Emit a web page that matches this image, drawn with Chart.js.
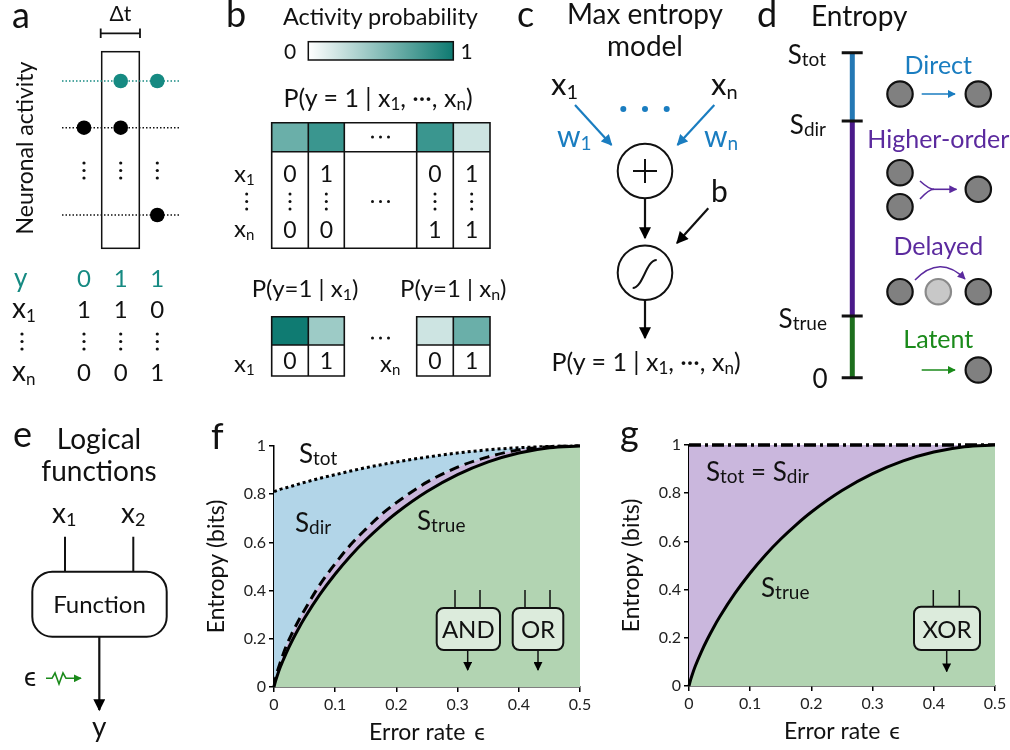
<!doctype html>
<html lang="en">
<head>
<meta charset="utf-8">
<title>Entropy of logical functions</title>
<style>
  * { margin: 0; padding: 0; }
  body { width: 1010px; height: 750px; background: #fff; position: relative; overflow: hidden; }
  canvas { position: absolute; }
  #chartF { left: 200px; top: 420px; }
  #chartG { left: 615px; top: 419px; }
  #art { position: absolute; left: 0; top: 0; pointer-events: none; }
  #art text { font-family: Lato, "Liberation Sans", sans-serif; fill: #111; }
</style>
</head>
<body>
<canvas id="chartF" width="410" height="330"></canvas>
<canvas id="chartG" width="395" height="330"></canvas>

<svg id="art" width="1010" height="750" viewBox="0 0 1010 750">
  <defs>
    <linearGradient id="tealGrad" x1="0" x2="1" y1="0" y2="0">
      <stop offset="0" stop-color="#ffffff"/>
      <stop offset="1" stop-color="#0e7a71"/>
    </linearGradient>
    <marker id="akL" viewBox="0 0 10 10" refX="9" refY="5" markerWidth="13" markerHeight="12" markerUnits="userSpaceOnUse" orient="auto"><path d="M0,0 L10,5 L0,10 z" fill="#000"/></marker>
    <marker id="akS" viewBox="0 0 10 10" refX="9" refY="5" markerWidth="9" markerHeight="9" markerUnits="userSpaceOnUse" orient="auto"><path d="M0,0 L10,5 L0,10 z" fill="#000"/></marker>
    <marker id="abL" viewBox="0 0 10 10" refX="9" refY="5" markerWidth="12" markerHeight="11" markerUnits="userSpaceOnUse" orient="auto"><path d="M0,0 L10,5 L0,10 z" fill="#1a7dc0"/></marker>
    <marker id="abS" viewBox="0 0 10 10" refX="9" refY="5" markerWidth="8" markerHeight="8" markerUnits="userSpaceOnUse" orient="auto"><path d="M0,0 L10,5 L0,10 z" fill="#1a7dc0"/></marker>
    <marker id="apS" viewBox="0 0 10 10" refX="9" refY="5" markerWidth="8" markerHeight="8" markerUnits="userSpaceOnUse" orient="auto"><path d="M0,0 L10,5 L0,10 z" fill="#5b2a9e"/></marker>
    <marker id="agS" viewBox="0 0 10 10" refX="9" refY="5" markerWidth="8" markerHeight="8" markerUnits="userSpaceOnUse" orient="auto"><path d="M0,0 L10,5 L0,10 z" fill="#1a8a1a"/></marker>
  </defs>

  <!-- a -->
  <text x="12" y="28" font-size="36">a</text>
  <text x="120.5" y="21" font-size="21" text-anchor="middle">Δt</text>
  <path d="M100.7 33.3 H140 M100.7 28.5 V38 M140 28.5 V38" stroke="#111" stroke-width="1.8" fill="none"/>
  <rect x="101.7" y="51.7" width="37.6" height="196.6" fill="none" stroke="#111" stroke-width="1.5"/>
  <line x1="62" y1="81" x2="180" y2="81" stroke="#168a82" stroke-width="1.5" stroke-dasharray="1.5 2"/>
  <line x1="62" y1="127.7" x2="180" y2="127.7" stroke="#111" stroke-width="1.5" stroke-dasharray="1.5 2"/>
  <line x1="62" y1="215" x2="180" y2="215" stroke="#111" stroke-width="1.5" stroke-dasharray="1.5 2"/>
  <circle cx="120.7" cy="81" r="7.3" fill="#168a82"/>
  <circle cx="157.3" cy="81" r="7.3" fill="#168a82"/>
  <circle cx="84" cy="127.7" r="7.3" fill="#000"/>
  <circle cx="120.7" cy="127.7" r="7.3" fill="#000"/>
  <circle cx="157.3" cy="215" r="7.3" fill="#000"/>
  <g fill="#111">
    <circle cx="84" cy="163" r="1.6"/><circle cx="84" cy="170.5" r="1.6"/><circle cx="84" cy="178" r="1.6"/>
    <circle cx="120.7" cy="163" r="1.6"/><circle cx="120.7" cy="170.5" r="1.6"/><circle cx="120.7" cy="178" r="1.6"/>
    <circle cx="157.3" cy="163" r="1.6"/><circle cx="157.3" cy="170.5" r="1.6"/><circle cx="157.3" cy="178" r="1.6"/>
  </g>
  <text transform="translate(33,148) rotate(-90)" font-size="23" text-anchor="middle">Neuronal activity</text>
  <text x="14" y="287" font-size="26" style="fill:#168a82">y</text>
  <g font-size="24" text-anchor="middle">
    <text x="84" y="287" style="fill:#168a82">0</text><text x="120.7" y="287" style="fill:#168a82">1</text><text x="157.3" y="287" style="fill:#168a82">1</text>
    <text x="84" y="318">1</text><text x="120.7" y="318">1</text><text x="157.3" y="318">0</text>
    <text x="84" y="381">0</text><text x="120.7" y="381">0</text><text x="157.3" y="381">1</text>
  </g>
  <text x="12" y="318" font-size="28">x<tspan font-size="17" dy="4">1</tspan></text>
  <text x="12" y="381" font-size="28">x<tspan font-size="17" dy="4">n</tspan></text>
  <g fill="#111">
    <circle cx="22" cy="334" r="1.6"/><circle cx="22" cy="341.5" r="1.6"/><circle cx="22" cy="349" r="1.6"/>
    <circle cx="84" cy="334" r="1.6"/><circle cx="84" cy="341.5" r="1.6"/><circle cx="84" cy="349" r="1.6"/>
    <circle cx="120.7" cy="334" r="1.6"/><circle cx="120.7" cy="341.5" r="1.6"/><circle cx="120.7" cy="349" r="1.6"/>
    <circle cx="157.3" cy="334" r="1.6"/><circle cx="157.3" cy="341.5" r="1.6"/><circle cx="157.3" cy="349" r="1.6"/>
  </g>

  <!-- b -->
  <text x="226" y="27" font-size="36">b</text>
  <text x="380.5" y="25" font-size="23.5" text-anchor="middle">Activity probability</text>
  <rect x="308.3" y="41.7" width="145" height="18.3" fill="url(#tealGrad)" stroke="#111" stroke-width="1.5"/>
  <text x="290" y="58.5" font-size="21" text-anchor="middle">0</text>
  <text x="466.7" y="58.5" font-size="21" text-anchor="middle">1</text>
  <text x="378" y="106.7" font-size="25" text-anchor="middle">P(y = 1 | x<tspan font-size="17" dy="3">1</tspan><tspan dy="-3">, ···, x</tspan><tspan font-size="17" dy="3">n</tspan><tspan dy="-3">)</tspan></text>
  <rect x="271.7" y="122.7" width="36.6" height="29" fill="#6aafa9"/>
  <rect x="308.3" y="122.7" width="36" height="29" fill="#3a968f"/>
  <rect x="416.7" y="122.7" width="36.6" height="29" fill="#3a968f"/>
  <rect x="453.3" y="122.7" width="36.7" height="29" fill="#cde4e2"/>
  <path d="M271.7 122.7 H490 V248.3 H271.7 Z M271.7 151.7 H490 M308.3 122.7 V248.3 M344.3 122.7 V248.3 M416.7 122.7 V248.3 M453.3 122.7 V248.3" fill="none" stroke="#111" stroke-width="1.6"/>
  <g font-size="23" text-anchor="middle">
    <text x="290" y="182">0</text><text x="326.3" y="182">1</text><text x="435" y="182">0</text><text x="471.7" y="182">1</text>
    <text x="290" y="237.5">0</text><text x="326.3" y="237.5">0</text><text x="435" y="237.5">1</text><text x="471.7" y="237.5">1</text>
  </g>
  <text x="234" y="182" font-size="24">x<tspan font-size="15" dy="3">1</tspan></text>
  <text x="234" y="237" font-size="24">x<tspan font-size="15" dy="3">n</tspan></text>
  <g fill="#111">
    <circle cx="246.7" cy="194" r="1.5"/><circle cx="246.7" cy="201.5" r="1.5"/><circle cx="246.7" cy="209" r="1.5"/>
    <circle cx="290" cy="194" r="1.5"/><circle cx="290" cy="201.5" r="1.5"/><circle cx="290" cy="209" r="1.5"/>
    <circle cx="326.3" cy="194" r="1.5"/><circle cx="326.3" cy="201.5" r="1.5"/><circle cx="326.3" cy="209" r="1.5"/>
    <circle cx="435" cy="194" r="1.5"/><circle cx="435" cy="201.5" r="1.5"/><circle cx="435" cy="209" r="1.5"/>
    <circle cx="471.7" cy="194" r="1.5"/><circle cx="471.7" cy="201.5" r="1.5"/><circle cx="471.7" cy="209" r="1.5"/>
    <circle cx="372.5" cy="201.5" r="1.5"/><circle cx="380.5" cy="201.5" r="1.5"/><circle cx="388.5" cy="201.5" r="1.5"/>
    <circle cx="372.5" cy="137" r="1.5"/><circle cx="380.5" cy="137" r="1.5"/><circle cx="388.5" cy="137" r="1.5"/>
    <circle cx="372.5" cy="338" r="1.5"/><circle cx="380.5" cy="338" r="1.5"/><circle cx="388.5" cy="338" r="1.5"/>
  </g>
  <text x="305" y="297" font-size="24" text-anchor="middle">P(y=1 | x<tspan font-size="16" dy="3">1</tspan><tspan dy="-3">)</tspan></text>
  <text x="453.3" y="297" font-size="24" text-anchor="middle">P(y=1 | x<tspan font-size="16" dy="3">n</tspan><tspan dy="-3">)</tspan></text>
  <rect x="271.7" y="316.7" width="36.6" height="28.3" fill="#0f7b72"/>
  <rect x="308.3" y="316.7" width="36" height="28.3" fill="#9dcbc6"/>
  <rect x="416.7" y="316.7" width="36.6" height="28.3" fill="#cde4e2"/>
  <rect x="453.3" y="316.7" width="36.7" height="28.3" fill="#6aafa9"/>
  <path d="M271.7 316.7 H344.3 V376 H271.7 Z M271.7 345 H344.3 M308.3 316.7 V376 M416.7 316.7 H490 V376 H416.7 Z M416.7 345 H490 M453.3 316.7 V376" fill="none" stroke="#111" stroke-width="1.6"/>
  <g font-size="23" text-anchor="middle">
    <text x="290" y="369">0</text><text x="326.3" y="369">1</text><text x="435" y="369">0</text><text x="471.7" y="369">1</text>
  </g>
  <text x="234" y="372" font-size="24">x<tspan font-size="15" dy="3">1</tspan></text>
  <text x="380" y="372" font-size="24">x<tspan font-size="15" dy="3">n</tspan></text>

  <!-- c -->
  <text x="517" y="27" font-size="36">c</text>
  <text x="645" y="24" font-size="28" text-anchor="middle">Max entropy</text>
  <text x="645" y="56" font-size="28" text-anchor="middle">model</text>
  <text x="551" y="95" font-size="31">x<tspan font-size="20" dy="4">1</tspan></text>
  <text x="711" y="95" font-size="31">x<tspan font-size="20" dy="4">n</tspan></text>
  <g fill="#1a7dc0"><circle cx="623.3" cy="109" r="3"/><circle cx="645" cy="109" r="3"/><circle cx="666.7" cy="109" r="3"/></g>
  <line x1="575" y1="105" x2="611.5" y2="145" stroke="#1a7dc0" stroke-width="2.2" marker-end="url(#abL)"/>
  <line x1="714.3" y1="105" x2="677.5" y2="145" stroke="#1a7dc0" stroke-width="2.2" marker-end="url(#abL)"/>
  <text x="557" y="147" font-size="30" style="fill:#1a7dc0">w<tspan font-size="19" dy="3">1</tspan></text>
  <text x="704" y="147" font-size="30" style="fill:#1a7dc0">w<tspan font-size="19" dy="3">n</tspan></text>
  <circle cx="645" cy="171" r="27.3" fill="#fff" stroke="#111" stroke-width="2"/>
  <path d="M645 159 V183 M633 171 H657" stroke="#111" stroke-width="2"/>
  <line x1="645" y1="198.5" x2="645" y2="238" stroke="#111" stroke-width="2.2" marker-end="url(#akL)"/>
  <text x="711" y="202" font-size="30">b</text>
  <line x1="708.3" y1="208.3" x2="677" y2="243" stroke="#111" stroke-width="2.2" marker-end="url(#akL)"/>
  <circle cx="645" cy="272.7" r="27.3" fill="#fff" stroke="#111" stroke-width="2"/>
  <path d="M632.7 288 C643 288 646 260 656.7 260" fill="none" stroke="#111" stroke-width="2"/>
  <line x1="645" y1="300" x2="645" y2="338" stroke="#111" stroke-width="2.2" marker-end="url(#akL)"/>
  <text x="646" y="371" font-size="25" text-anchor="middle">P(y = 1 | x<tspan font-size="17" dy="3">1</tspan><tspan dy="-3">, ···, x</tspan><tspan font-size="17" dy="3">n</tspan><tspan dy="-3">)</tspan></text>

  <!-- d -->
  <text x="757" y="27" font-size="36">d</text>
  <text x="811" y="26" font-size="28">Entropy</text>
  <line x1="852.3" y1="52.7" x2="852.3" y2="121" stroke="#2478b4" stroke-width="5"/>
  <line x1="852.3" y1="121" x2="852.3" y2="316" stroke="#4a1a8a" stroke-width="5"/>
  <line x1="852.3" y1="316" x2="852.3" y2="377.7" stroke="#1d6f1d" stroke-width="5"/>
  <path d="M841.7 52.7 H862.7 M841.7 121 H862.7 M841.7 316 H862.7 M841.7 377.7 H862.7" stroke="#111" stroke-width="3"/>
  <text x="826" y="64" font-size="26" text-anchor="end">S<tspan font-size="19" dy="2">tot</tspan></text>
  <text x="826" y="134" font-size="26" text-anchor="end">S<tspan font-size="19" dy="2">dir</tspan></text>
  <text x="827" y="328" font-size="26" text-anchor="end">S<tspan font-size="19" dy="2">true</tspan></text>
  <text x="820" y="388" font-size="26" text-anchor="middle">0</text>
  <text x="938.3" y="74" font-size="25" text-anchor="middle" style="fill:#1a7dc0">Direct</text>
  <text x="938.3" y="148" font-size="25" text-anchor="middle" style="fill:#5b2a9e">Higher-order</text>
  <text x="938.3" y="255" font-size="25" text-anchor="middle" style="fill:#5b2a9e">Delayed</text>
  <text x="938.3" y="348" font-size="25" text-anchor="middle" style="fill:#1a8a1a">Latent</text>
  <g fill="#808080" stroke="#111" stroke-width="2.2">
    <circle cx="900" cy="94" r="12.7"/><circle cx="978.3" cy="94" r="12.7"/>
    <circle cx="900" cy="172.7" r="12.7"/><circle cx="900" cy="206.7" r="12.7"/><circle cx="978.3" cy="189.3" r="12.7"/>
    <circle cx="900" cy="291.7" r="12.7"/><circle cx="978.3" cy="291.7" r="12.7"/>
    <circle cx="978.3" cy="370" r="12.7"/>
  </g>
  <circle cx="938.3" cy="291.7" r="12.7" fill="#c8c8c8" stroke="#8a8a8a" stroke-width="2.2"/>
  <line x1="921.7" y1="94" x2="955" y2="94" stroke="#1a7dc0" stroke-width="1.6" marker-end="url(#abS)"/>
  <path d="M920 181 Q929 189.3 934 189.3 M920 199 Q929 189.3 934 189.3" fill="none" stroke="#5b2a9e" stroke-width="1.6"/>
  <line x1="933" y1="189.3" x2="956.5" y2="189.3" stroke="#5b2a9e" stroke-width="1.6" marker-end="url(#apS)"/>
  <path d="M915 280 Q940 254 965 279" fill="none" stroke="#5b2a9e" stroke-width="1.6" marker-end="url(#apS)"/>
  <line x1="921.7" y1="370" x2="955" y2="370" stroke="#1a8a1a" stroke-width="1.6" marker-end="url(#agS)"/>

  <!-- e -->
  <text x="13" y="447" font-size="36">e</text>
  <text x="99" y="449" font-size="28" text-anchor="middle">Logical</text>
  <text x="99" y="481" font-size="28" text-anchor="middle">functions</text>
  <text x="52" y="523" font-size="28">x<tspan font-size="18" dy="3">1</tspan></text>
  <text x="121" y="523" font-size="28">x<tspan font-size="18" dy="3">2</tspan></text>
  <path d="M65 536.7 V571.7 M133.3 536.7 V571.7" stroke="#111" stroke-width="2"/>
  <rect x="32.3" y="571.7" width="134.4" height="65" rx="20" fill="#fff" stroke="#111" stroke-width="2"/>
  <text x="99.5" y="613" font-size="24" text-anchor="middle">Function</text>
  <line x1="99.3" y1="636.7" x2="99.3" y2="710" stroke="#111" stroke-width="2.2" marker-end="url(#akL)"/>
  <text x="24" y="686" font-size="26">ϵ</text>
  <path d="M46 678.3 H52 L55 673 L59 684 L63 673 L66 678.3 H81" fill="none" stroke="#1a8a1a" stroke-width="1.6" marker-end="url(#agS)"/>
  <text x="99.3" y="737" font-size="28" text-anchor="middle">y</text>

  <!-- f annotations -->
  <text x="211" y="449" font-size="36">f</text>
  <text x="299" y="463" font-size="26">S<tspan font-size="19" dy="2">tot</tspan></text>
  <text x="295" y="532" font-size="26">S<tspan font-size="19" dy="2">dir</tspan></text>
  <text x="417" y="530" font-size="26">S<tspan font-size="19" dy="2">true</tspan></text>
  <path d="M455 590 V608 M480 590 V608 M525 590 V608 M550 590 V608" stroke="#111" stroke-width="1.5"/>
  <rect x="436.7" y="608" width="63.3" height="42" rx="7" fill="#dcebdc" stroke="#111" stroke-width="2"/>
  <rect x="512.7" y="608" width="50.6" height="42" rx="7" fill="#dcebdc" stroke="#111" stroke-width="2"/>
  <text x="468.3" y="638" font-size="24" text-anchor="middle">AND</text>
  <text x="538" y="638" font-size="24" text-anchor="middle">OR</text>
  <line x1="467.7" y1="650" x2="467.7" y2="670" stroke="#111" stroke-width="1.5" marker-end="url(#akS)"/>
  <line x1="538" y1="650" x2="538" y2="670" stroke="#111" stroke-width="1.5" marker-end="url(#akS)"/>

  <!-- g annotations -->
  <text x="620" y="446" font-size="36">g</text>
  <text x="706" y="481" font-size="26">S<tspan font-size="19" dy="2">tot</tspan><tspan dy="-2"> = S</tspan><tspan font-size="19" dy="2">dir</tspan></text>
  <text x="761" y="597" font-size="26">S<tspan font-size="19" dy="2">true</tspan></text>
  <path d="M933.3 590 V606.7 M959.3 590 V606.7" stroke="#111" stroke-width="1.5"/>
  <rect x="914" y="606.7" width="66" height="43.3" rx="7" fill="#dcebdc" stroke="#111" stroke-width="2"/>
  <text x="947" y="638" font-size="24" text-anchor="middle">XOR</text>
  <line x1="946.7" y1="650" x2="946.7" y2="671.5" stroke="#111" stroke-width="1.5" marker-end="url(#akS)"/>
</svg>

<script src="https://cdn.jsdelivr.net/npm/chart.js"></script>
<script>
// error rate grid and entropies (bits)
const errorRate = [0, 0.0025, 0.005, 0.01, 0.02, 0.03, 0.04, 0.05, 0.075, 0.1, 0.125, 0.15, 0.175, 0.2, 0.25, 0.3, 0.35, 0.4, 0.45, 0.5];
const sTrue     = [0, 0.025, 0.045, 0.081, 0.141, 0.194, 0.242, 0.286, 0.384, 0.469, 0.544, 0.61, 0.669, 0.722, 0.811, 0.881, 0.934, 0.971, 0.993, 1];
const sDirAnd   = [0, 0.035, 0.06, 0.1, 0.17, 0.225, 0.275, 0.32, 0.425, 0.512, 0.59, 0.655, 0.715, 0.765, 0.85, 0.912, 0.955, 0.984, 0.997, 1];
const sTotAnd   = [0.811, 0.813, 0.815, 0.82, 0.827, 0.834, 0.842, 0.849, 0.866, 0.881, 0.896, 0.91, 0.922, 0.934, 0.954, 0.971, 0.984, 0.993, 0.998, 1];
const sTotXor   = [1, 1, 1, 1, 1, 1, 1, 1, 1, 1, 1, 1, 1, 1, 1, 1, 1, 1, 1, 1];

const xTickValues = [0, 0.1, 0.2, 0.3, 0.4, 0.5];
const yTickValues = [0, 0.2, 0.4, 0.6, 0.8, 1];

const green = '#b2d4b2';
const purple = '#cab7dd';
const blue = '#b2d5e8';

Chart.defaults.font.family = 'Lato, "Liberation Sans", sans-serif';
Chart.defaults.color = '#222';

function pts(ys) {
  return errorRate.map((x, i) => ({ x: x, y: ys[i] }));
}

function makeChart(id, datasets, padRight) {
  return new Chart(document.getElementById(id), {
    type: 'line',
    data: { datasets },
    options: {
      responsive: false,
      animation: false,
      devicePixelRatio: 1,
      layout: { padding: { left: 0, right: padRight, top: 26, bottom: 0 } },
      plugins: { legend: { display: false }, tooltip: { enabled: false } },
      elements: { point: { radius: 0 } },
      scales: {
        x: {
          type: 'linear', min: 0, max: 0.5,
          afterBuildTicks: s => { s.ticks = xTickValues.map(v => ({ value: v })); },
          afterFit: s => { s.height = 63; s.paddingLeft = 0; s.paddingRight = 0; },
          ticks: { font: { size: 16 }, padding: 3, color: '#222', maxRotation: 0, callback: v => String(v) },
          grid: { drawOnChartArea: false, drawTicks: true, tickLength: 5, color: '#000', lineWidth: 1.5 },
          border: { color: '#000', width: 1.5 },
          title: { display: true, text: 'Error rate \u2009\u03f5', font: { size: 23 }, color: '#111', padding: { top: 0, bottom: 4 } }
        },
        y: {
          type: 'linear', min: 0, max: 1,
          afterBuildTicks: s => { s.ticks = yTickValues.map(v => ({ value: v })); },
          afterFit: s => { s.width = 74; s.paddingTop = 0; s.paddingBottom = 0; },
          ticks: { font: { size: 16 }, padding: 3, color: '#222', callback: v => String(v) },
          grid: { drawOnChartArea: false, drawTicks: true, tickLength: 5, color: '#000', lineWidth: 1.5 },
          border: { color: '#000', width: 1.5 },
          title: { display: true, text: 'Entropy (bits)', font: { size: 23 }, color: '#111', padding: { top: 3, bottom: 0 } }
        }
      }
    }
  });
}

// f: AND / OR
makeChart('chartF', [
  { label: 'S_true', data: pts(sTrue), borderColor: '#000', borderWidth: 3, backgroundColor: green, fill: 'origin', cubicInterpolationMode: 'monotone', clip: 4 },
  { label: 'S_dir', data: pts(sDirAnd), borderColor: '#000', borderWidth: 3, borderDash: [10, 6], backgroundColor: purple, fill: '-1', cubicInterpolationMode: 'monotone', clip: 4 },
  { label: 'S_tot', data: pts(sTotAnd), borderColor: '#000', borderWidth: 3, borderDash: [3, 3], backgroundColor: blue, fill: '-1', cubicInterpolationMode: 'monotone', clip: 4 }
], 30);

// g: XOR
makeChart('chartG', [
  { label: 'S_true', data: pts(sTrue), borderColor: '#000', borderWidth: 3, backgroundColor: green, fill: 'origin', cubicInterpolationMode: 'monotone', clip: 4 },
  { label: 'S_tot = S_dir', data: pts(sTotXor), borderColor: '#000', borderWidth: 3.5, borderDash: [12, 4, 3, 4], backgroundColor: purple, fill: '-1', clip: 4 }
], 15);
</script>
</body>
</html>
